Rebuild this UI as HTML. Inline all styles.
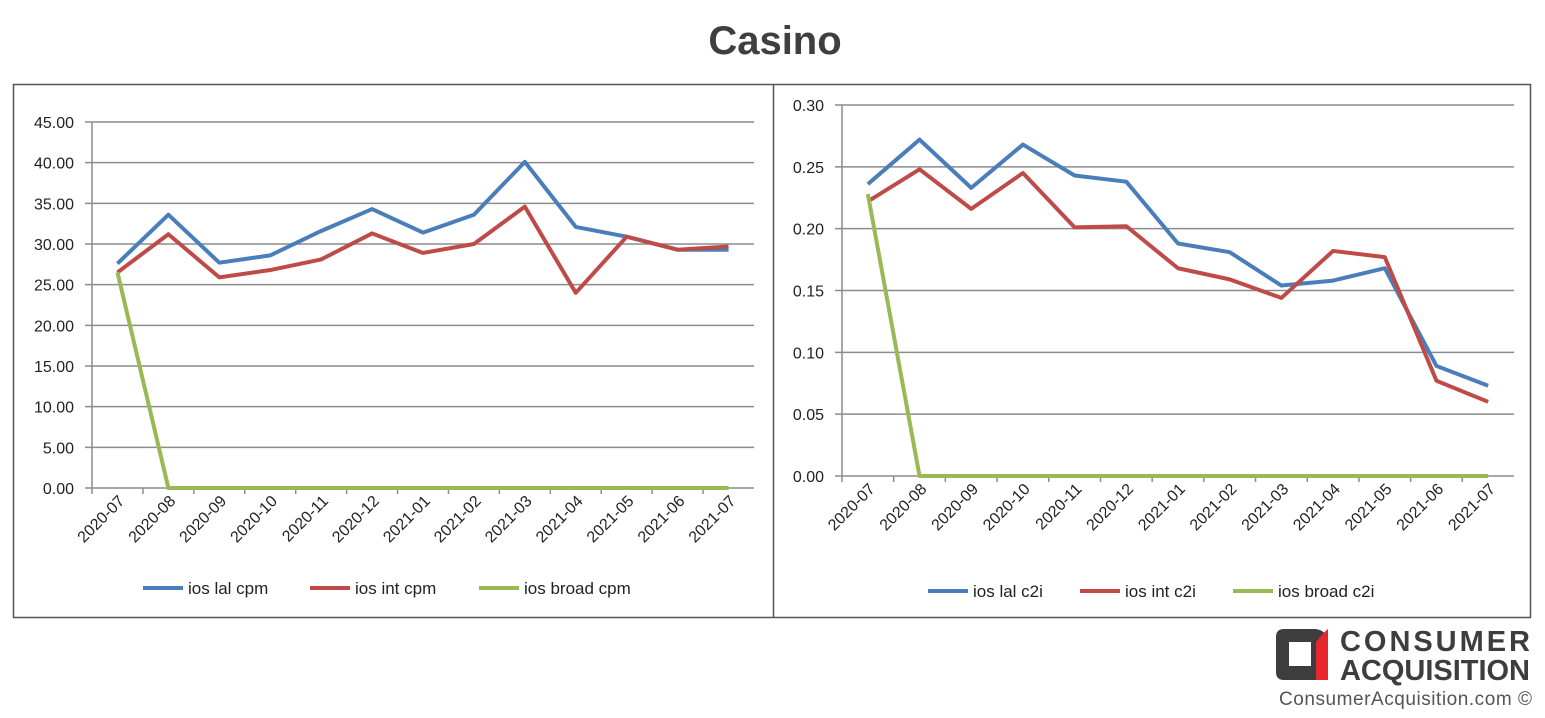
<!DOCTYPE html>
<html><head><meta charset="utf-8"><style>
body{margin:0;background:#fff;width:1545px;height:713px;overflow:hidden;font-family:"Liberation Sans",sans-serif}
svg text{font-family:"Liberation Sans",sans-serif}
</style></head><body>
<svg width="1545" height="713">
<text x="775" y="54" text-anchor="middle" font-size="40" font-weight="bold" fill="#3f3f3f">Casino</text>
<rect x="13.5" y="84.5" width="1517" height="533" fill="none" stroke="#555" stroke-width="1.5"/>
<line x1="773.5" y1="84" x2="773.5" y2="618" stroke="#555" stroke-width="1.5"/>
<g id="left"></g>
<g id="right"></g>
<g>
<path d="M1284 629 h30 q8 0 12 6 v-6 h0 v51 h-42 q-8 0 -8 -8 v-35 q0 -8 8 -8z" fill="#3d3d3f"/>
<rect x="1289" y="642" width="22" height="24" fill="#fff"/>
<path d="M1316 642 q8 -10 12 -13 v51 h-12z" fill="#e8262d"/>
<text x="1340" y="651" font-size="29" font-weight="bold" fill="#3d3d3f" textLength="190">CONSUMER</text>
<text x="1340" y="680" font-size="29" font-weight="bold" fill="#3d3d3f" textLength="190">ACQUISITION</text>
<text x="1279" y="705" font-size="19" fill="#555" textLength="253">ConsumerAcquisition.com ©</text>
</g>
</svg>
<script>
const categories=["2020-07","2020-08","2020-09","2020-10","2020-11","2020-12","2021-01","2021-02","2021-03","2021-04","2021-05","2021-06","2021-07"];
const lalCpm=[27.6,33.6,27.7,28.6,31.6,34.3,31.4,33.6,40.1,32.1,30.9,29.3,29.3];
const intCpm=[26.5,31.2,25.9,26.8,28.1,31.3,28.9,30.0,34.6,24.0,30.9,29.3,29.7];
const broadCpm=[26.5,0,0,0,0,0,0,0,0,0,0,0,0];
const lalC2i=[0.236,0.272,0.233,0.268,0.243,0.238,0.188,0.181,0.154,0.158,0.168,0.089,0.073];
const intC2i=[0.222,0.248,0.216,0.245,0.201,0.202,0.168,0.159,0.144,0.182,0.177,0.077,0.060];
const broadC2i=[0.228,0,0,0,0,0,0,0,0,0,0,0,0];
const cpmTicks=[0,5,10,15,20,25,30,35,40,45];
const c2iTicks=[0,0.05,0.10,0.15,0.20,0.25,0.30];
const NS="http://www.w3.org/2000/svg";
function mk(p,t,a){const e=document.createElementNS(NS,t);for(const k in a)e.setAttribute(k,a[k]);p.appendChild(e);return e;}
function panel(g,o){
  const n=categories.length,bw=(o.x1-o.x0)/n;
  const X=i=>o.x0+bw*(i+0.5);
  const Y=v=>o.y0-(v/o.max)*(o.y0-o.y1);
  o.ticks.forEach(t=>{
    const l=mk(g,'line',{x1:o.x0-7,x2:o.x1,y1:Y(t),y2:Y(t),stroke:'#8c8c8c','stroke-width':1.5});
    
    
    const tx=mk(g,'text',{x:o.x0-18,y:Y(t)+6,'text-anchor':'end','font-size':16,fill:'#222'});
    tx.textContent=t.toFixed(2);
    
    
  });
  const ax=mk(g,'line',{x1:o.x0,x2:o.x0,y1:o.y1,y2:o.y0,stroke:'#8c8c8c','stroke-width':1.5});
  
  
  categories.forEach((c,i)=>{
    const tk=mk(g,'line',{x1:o.x0+bw*i,x2:o.x0+bw*i,y1:o.y0,y2:o.y0+6,stroke:'#8c8c8c','stroke-width':1.5});
    
    
    const x=X(i)+8,y=o.y0+14;
    const t=mk(g,'text',{x:x,y:y,'text-anchor':'end','font-size':16,fill:'#222',transform:`rotate(-45 ${x} ${y})`});
    t.textContent=c;
    
    
  });
  o.series.forEach(s=>{
    const p=mk(g,'polyline',{points:s.d.map((v,i)=>X(i)+','+Y(v)).join(' '),fill:'none',stroke:s.c,'stroke-width':4,'stroke-linejoin':'round'});
    
    
  });
  let lx=o.legX;
  o.series.forEach(s=>{
    const l=mk(g,'line',{x1:lx,x2:lx+40,y1:o.legY,y2:o.legY,stroke:s.c,'stroke-width':4});
    
    
    const t=mk(g,'text',{x:lx+45,y:o.legY+6,'font-size':17,fill:'#222'});
    t.textContent=s.n;
    
    
    lx+=s.w;
  });
}
panel(document.getElementById('left'),{x0:92,x1:754,y0:488,y1:122,max:45,ticks:cpmTicks,legX:143,legY:588,
 series:[{n:'ios lal cpm',d:lalCpm,c:'#4a7ebb',w:167},{n:'ios int cpm',d:intCpm,c:'#be4b48',w:169},{n:'ios broad cpm',d:broadCpm,c:'#98b954',w:170}]});
panel(document.getElementById('right'),{x0:842,x1:1514,y0:476,y1:105,max:0.30,ticks:c2iTicks,legX:928,legY:591,
 series:[{n:'ios lal c2i',d:lalC2i,c:'#4a7ebb',w:152},{n:'ios int c2i',d:intC2i,c:'#be4b48',w:153},{n:'ios broad c2i',d:broadC2i,c:'#98b954',w:160}]});
</script>
</body></html>
